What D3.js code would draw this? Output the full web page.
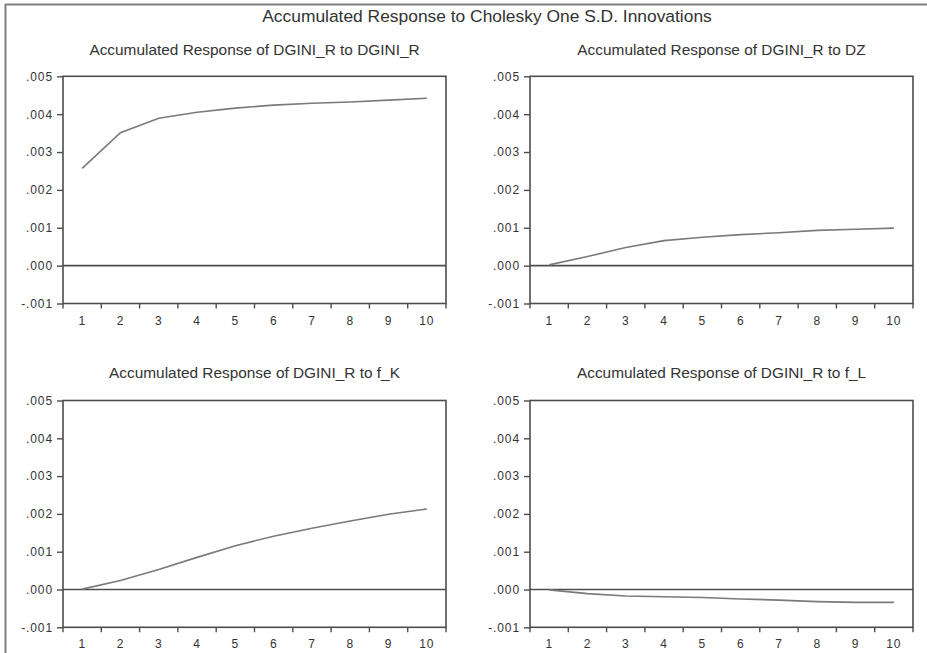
<!DOCTYPE html>
<html>
<head>
<meta charset="utf-8">
<script src="https://cdn.jsdelivr.net/npm/d3@7"></script>
<style>
  html, body { margin: 0; padding: 0; background: #fff; }
  svg { display: block; }
  text { font-family: "Liberation Sans", Arial, sans-serif; fill: #333; }
</style>
</head>
<body>
<svg id="chart" width="927" height="653"></svg>
<script>
// ---- data ----
const mainTitle = "Accumulated Response to Cholesky One S.D. Innovations";
const periods = [1, 2, 3, 4, 5, 6, 7, 8, 9, 10];
const yTicks = [-0.001, 0.000, 0.001, 0.002, 0.003, 0.004, 0.005];
const yTickLabels = ["-.001", ".000", ".001", ".002", ".003", ".004", ".005"];
const panelTitles = [
  "Accumulated Response of DGINI_R to DGINI_R",
  "Accumulated Response of DGINI_R to DZ",
  "Accumulated Response of DGINI_R to f_K",
  "Accumulated Response of DGINI_R to f_L"
];
const respDGINI = [0.00257, 0.00351, 0.00389, 0.00405, 0.00416, 0.00424, 0.00429, 0.00432, 0.00437, 0.00442];
const respDZ    = [0.00002, 0.00024, 0.00048, 0.00066, 0.00075, 0.00082, 0.00087, 0.00093, 0.00096, 0.00099];
const respFK    = [0.00001, 0.00024, 0.00053, 0.00085, 0.00116, 0.00141, 0.00162, 0.00181, 0.00199, 0.00213];
const respFL    = [-0.00001, -0.00011, -0.00017, -0.00019, -0.00021, -0.00025, -0.00028, -0.00032, -0.00034, -0.00034];
const seriesList = [respDGINI, respDZ, respFK, respFL];

// ---- layout ----
const svg = d3.select("#chart");
const frameColor = "#4d4d4d";
const lineColor = "#7a7a7a";

// outer frame (top and left edges visible)
svg.append("line").attr("x1", 5).attr("x2", 927).attr("y1", 4.5).attr("y2", 4.5)
  .attr("stroke", "#808080").attr("stroke-width", 2);
svg.append("line").attr("x1", 5.5).attr("x2", 5.5).attr("y1", 4).attr("y2", 653)
  .attr("stroke", "#808080").attr("stroke-width", 2);

svg.append("text").attr("x", 487).attr("y", 22).attr("text-anchor", "middle")
  .style("font-size", "17.4px").text(mainTitle);

const boxes = [
  {x0: 63,  x1: 446, y0: 76.3,  y1: 303.5, titleY: 55},
  {x0: 530, x1: 913, y0: 76.3,  y1: 303.5, titleY: 55},
  {x0: 63,  x1: 446, y0: 400.5, y1: 627.3, titleY: 378},
  {x0: 530, x1: 913, y0: 400.5, y1: 627.3, titleY: 378}
];

boxes.forEach((b, i) => {
  const g = svg.append("g");
  const x = d3.scaleBand().domain(periods).range([b.x0, b.x1]);
  const xp = d3.scalePoint().domain(periods).range([b.x0 + x.bandwidth() / 2, b.x1 - x.bandwidth() / 2]);
  const y = d3.scaleLinear().domain([-0.001, 0.005]).range([b.y1, b.y0]);

  // title
  g.append("text").attr("x", (b.x0 + b.x1) / 2).attr("y", b.titleY)
    .attr("text-anchor", "middle").style("font-size", "15.4px").text(panelTitles[i]);

  // box
  g.append("rect").attr("x", b.x0).attr("y", b.y0)
    .attr("width", b.x1 - b.x0).attr("height", b.y1 - b.y0)
    .attr("fill", "none").attr("stroke", frameColor).attr("stroke-width", 1.6);

  // y axis
  const yAxis = d3.axisLeft(y).tickValues(yTicks)
    .tickFormat((d, k) => yTickLabels[k]).tickSize(6).tickPadding(4);
  const ya = g.append("g").attr("transform", `translate(${b.x0},0)`).call(yAxis);
  ya.select(".domain").remove();
  ya.selectAll(".tick line").attr("stroke", frameColor).attr("stroke-width", 1.4);
  ya.selectAll(".tick text").style("font-size", "12px").style("letter-spacing", "0.9px")
    .attr("fill", "#333")
    .style("font-family", "'Liberation Sans', Arial, sans-serif");

  // x axis: ticks at band boundaries, labels at band centers
  const bounds = periods.map(p => x(p)).concat([b.x1]);
  g.selectAll(".xt").data(bounds).join("line")
    .attr("x1", d => d).attr("x2", d => d)
    .attr("y1", b.y1).attr("y2", b.y1 + 5)
    .attr("stroke", frameColor).attr("stroke-width", 1.4);
  g.selectAll(".xl").data(periods).join("text")
    .attr("x", d => xp(d)).attr("y", b.y1 + 21)
    .attr("text-anchor", "middle").style("font-size", "12px").style("letter-spacing", "0.8px")
    .text(d => d);

  // zero line
  g.append("line").attr("x1", b.x0).attr("x2", b.x1)
    .attr("y1", y(0)).attr("y2", y(0))
    .attr("stroke", frameColor).attr("stroke-width", 1.6);

  // response line
  const line = d3.line().x((d, k) => xp(periods[k])).y(d => y(d));
  g.append("path").datum(seriesList[i]).attr("d", line)
    .attr("fill", "none").attr("stroke", lineColor).attr("stroke-width", 1.6);
});
</script>
</body>
</html>
